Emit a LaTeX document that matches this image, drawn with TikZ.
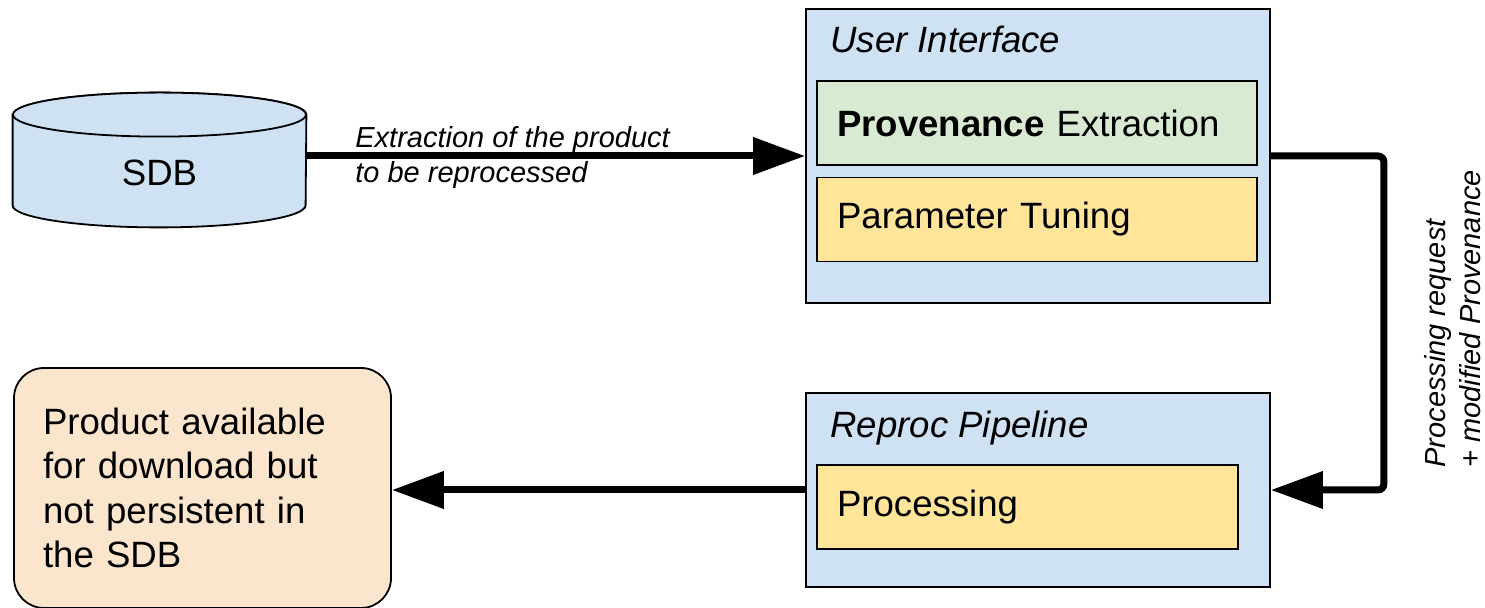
\documentclass[tikz,border=0pt]{standalone}
\usepackage{fontspec}
\setmainfont{Liberation Sans}
\usetikzlibrary{arrows.meta}
\definecolor{boxblue}{HTML}{CFE2F3}
\definecolor{boxgreen}{HTML}{D9EAD3}
\definecolor{boxyellow}{HTML}{FFE599}
\definecolor{boxpeach}{HTML}{FCE5CD}
\newcommand\mainsize{\fontsize{18.3pt}{22.2pt}\selectfont}
\newcommand\labelsize{\fontsize{14.5pt}{17.6pt}\selectfont}
\begin{document}
\begin{tikzpicture}[x=0.5pt,y=-0.5pt,
  outline/.style={draw=black, line width=0.9pt},
  panel/.style={outline, fill=boxblue, minimum width=232pt, inner sep=0pt},
  stepbox/.style={outline, align=left, inner xsep=10pt, inner ysep=0pt,
    minimum height=42pt, font=\mainsize},
  title/.style={anchor=base west, inner sep=0pt, font=\mainsize\itshape},
  cyl/.style={outline, fill=boxblue},
  flow/.style={line width=3.5pt, -{Triangle[length=26pt,width=18pt]}},
  note/.style={font=\labelsize\itshape, align=left, inner sep=0pt}]
\useasboundingbox (0,0) rectangle (1485,608);

% database cylinder
\node[minimum width=146.5pt, minimum height=67pt, inner sep=0pt] (sdb) at (159.5,160) {};
\filldraw[cyl] ([yshift=-11pt]sdb.north west) -- ([yshift=11pt]sdb.south west)
  arc[start angle=180, end angle=360, x radius=73.25pt, y radius=11pt]
  -- ([yshift=-11pt]sdb.north east)
  arc[start angle=0, end angle=180, x radius=73.25pt, y radius=11pt] -- cycle;
\draw[cyl] ([yshift=-11pt]sdb.north) ellipse[x radius=73.25pt, y radius=11pt];
\node[font=\mainsize] (sdbname) at (159.5,172.5) {SDB};

% user interface panel
\node[panel, minimum height=147pt] (ui) at (1038,156) {};
\node[title] (uititle) at (830,53) {User Interface};
\node[stepbox, fill=boxgreen, text width=200pt] (prov) at (1037,123)
  {\textbf{Provenance} Extraction};
\node[stepbox, fill=boxyellow, text width=200pt] (tune) at (1037,219.5)
  {Parameter Tuning};

% reprocessing pipeline panel
\node[panel, minimum height=97pt] (reproc) at (1038,490) {};
\node[title] (rptitle) at (830,438) {Reproc Pipeline};
\node[stepbox, fill=boxyellow, text width=190.5pt] (proc) at (1027.5,507)
  {Processing};

% result
\node[outline, fill=boxpeach, rounded corners=15pt, text width=159.5pt,
  align=left, inner xsep=14.5pt, inner ysep=0pt, minimum height=120pt,
  font=\mainsize] (out) at (202.5,488)
  {Product available\\for download but\\not persistent in\\the SDB};

% connectors
\draw[flow] ([yshift=2pt]sdb.east) -- ([yshift=2pt]sdb.east -| ui.west);
\node[note, anchor=north west] (extract) at (355,126)
  {Extraction of the product\\to be reprocessed};

\draw[flow, rounded corners=3pt] (ui.east) -- ++(113,0) |- (reproc.east);
\node[note, rotate=90, anchor=north west] (request) at (1424,468)
  {Processing request\\+ modified Provenance};

\draw[flow] (reproc.west) -- (reproc.west -| out.east);
\end{tikzpicture}
\end{document}
